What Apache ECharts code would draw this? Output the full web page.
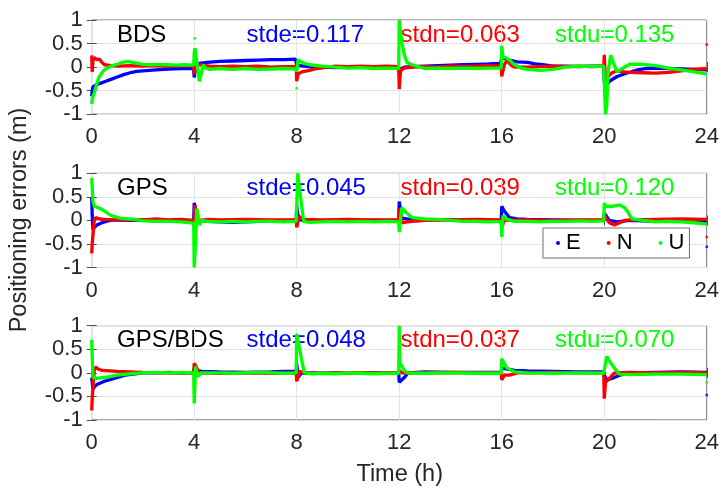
<!DOCTYPE html>
<html>
<head>
<meta charset="utf-8">
<script src="https://cdn.jsdelivr.net/npm/echarts@6/dist/echarts.min.js"></script>
<style>
html,body{margin:0;padding:0;background:#fff;}
#chart{width:722px;height:488px;}
</style>
</head>
<body>
<div id="chart"></div>
<script>
// ---- data ----
const panelNames = ['BDS', 'GPS', 'GPS/BDS'];
const stdE = ['0.117', '0.045', '0.048'];
const stdN = ['0.063', '0.039', '0.037'];
const stdU = ['0.135', '0.120', '0.070'];
const xTicks = [0, 4, 8, 12, 16, 20, 24];
const yTicks = [-1, -0.5, 0, 0.5, 1];

const bdsE = [[0,-0.62],[0.02,-0.5],[0.05,-0.42],[0.1,-0.4],[0.2,-0.37],[0.35,-0.34],[0.5,-0.31],[0.75,-0.26],[1,-0.21],[1.25,-0.16],[1.5,-0.12],[1.75,-0.09],[2,-0.08],[2.5,-0.06],[3,-0.04],[3.5,-0.03],[3.98,-0.03],[4.0,-0.22],[4.03,-0.1],[4.1,0.05],[4.2,0.08],[4.5,0.1],[5,0.12],[5.5,0.13],[6,0.14],[6.5,0.15],[7,0.16],[7.5,0.16],[7.95,0.17],[8.0,0.05],[8.1,0.03],[8.3,0.02],[8.6,0.0],[9,0.0],[9.5,-0.01],[10,0.0],[10.5,0.01],[11,0.0],[11.5,0.01],[11.98,0.0],[12.0,-0.12],[12.05,-0.05],[12.2,0.0],[12.5,0.01],[13,0.02],[13.5,0.03],[14,0.04],[14.5,0.05],[15,0.06],[15.5,0.07],[15.95,0.08],[16.0,0.2],[16.05,0.22],[16.3,0.15],[16.6,0.11],[17,0.1],[17.3,0.07],[17.6,0.05],[18,0.02],[18.5,0.02],[19,0.01],[19.5,0.02],[19.98,0.02],[20.0,-0.3],[20.05,-0.42],[20.1,-0.38],[20.2,-0.3],[20.5,-0.2],[20.8,-0.14],[21,-0.11],[21.3,-0.06],[21.6,-0.03],[22,-0.02],[22.5,-0.03],[23,-0.04],[23.5,-0.05],[24,-0.06]];
const bdsN = [[0,0.25],[0.02,-0.1],[0.05,0.15],[0.1,0.2],[0.2,0.16],[0.3,0.17],[0.4,0.1],[0.5,0.05],[0.75,0.03],[1,0.02],[1.5,0.03],[2,0.02],[2.5,0.03],[3,0.02],[3.5,0.03],[3.98,0.02],[4.0,-0.15],[4.05,0.0],[4.1,0.06],[4.3,0.04],[4.6,0.02],[5,0.01],[5.5,0.02],[6,0.01],[6.5,0.02],[7,0.0],[7.5,0.01],[7.98,0.01],[8.0,-0.3],[8.05,-0.15],[8.2,-0.1],[8.5,-0.07],[8.8,-0.03],[9.2,0.0],[9.5,0.02],[10,0.01],[10.5,0.02],[11,0.01],[11.5,0.02],[11.98,0.01],[12.0,-0.47],[12.05,-0.08],[12.2,-0.02],[12.5,0.0],[13,0.01],[13.5,0.0],[14,0.02],[14.5,0.01],[15,0.02],[15.5,0.03],[15.98,0.02],[16.0,-0.2],[16.1,0.05],[16.2,0.14],[16.35,0.05],[16.5,0.0],[17,0.0],[17.5,0.01],[18,0.02],[18.5,0.01],[19,0.02],[19.5,0.01],[19.98,0.02],[20.0,0.26],[20.05,-0.3],[20.15,-0.2],[20.3,-0.12],[20.5,-0.08],[20.8,-0.1],[21,-0.11],[21.5,-0.12],[22,-0.13],[22.5,-0.11],[23,-0.08],[23.5,-0.05],[24,-0.03]];
const bdsU = [[0,-0.78],[0.03,-0.65],[0.1,-0.55],[0.2,-0.35],[0.3,-0.2],[0.45,-0.08],[0.6,-0.02],[0.8,0.03],[1,0.06],[1.2,0.1],[1.4,0.12],[1.6,0.1],[1.8,0.08],[2,0.06],[2.3,0.05],[2.6,0.06],[3,0.05],[3.3,0.04],[3.6,0.05],[3.98,0.04],[4.0,0.3],[4.03,0.4],[4.08,0.2],[4.15,-0.1],[4.2,-0.3],[4.25,-0.2],[4.35,0.05],[4.45,-0.02],[4.6,-0.05],[5,-0.03],[5.5,-0.05],[6,-0.03],[6.5,-0.05],[7,-0.04],[7.5,-0.03],[7.98,-0.04],[8.0,-0.1],[8.05,0.15],[8.15,0.12],[8.3,0.08],[8.5,0.05],[9,0.02],[9.5,0.0],[10,-0.02],[10.5,-0.01],[11,-0.03],[11.5,-0.02],[11.98,-0.03],[12.0,1.0],[12.05,0.75],[12.1,0.54],[12.2,0.26],[12.3,0.1],[12.5,0.05],[12.8,0.0],[13,-0.03],[13.5,-0.02],[14,-0.03],[14.5,-0.02],[15,-0.03],[15.5,-0.02],[15.98,-0.02],[16.0,0.45],[16.05,0.22],[16.15,0.2],[16.3,0.15],[16.5,0.05],[16.75,-0.02],[17,-0.05],[17.5,-0.07],[18,-0.05],[18.5,0.0],[19,0.02],[19.5,0.01],[19.98,0.02],[20.0,-0.3],[20.05,-1.0],[20.1,-0.8],[20.15,-0.1],[20.25,0.25],[20.35,0.1],[20.5,-0.1],[20.7,-0.03],[21,0.06],[21.5,0.06],[22,0.03],[22.5,-0.02],[23,-0.06],[23.5,-0.1],[24,-0.15]];
const bdsEDots = [];
const bdsNDots = [[24,0.48]];
const bdsUDots = [[4.02,0.61],[8.0,-0.45]];

const gpsE = [[0,0.5],[0.02,0.1],[0.05,-0.2],[0.1,-0.15],[0.2,-0.1],[0.4,-0.05],[0.7,0.0],[1,0.01],[1.5,0.0],[2,0.01],[2.5,-0.01],[3,0.0],[3.5,-0.01],[3.98,0.0],[4.0,0.37],[4.05,0.25],[4.15,0.0],[4.5,-0.02],[5,-0.03],[5.5,-0.04],[6,-0.03],[6.5,-0.02],[7,-0.01],[7.5,0.0],[7.98,0.0],[8.0,0.3],[8.05,0.1],[8.2,0.0],[8.6,-0.02],[9,-0.01],[9.5,-0.02],[10,0.0],[10.5,-0.01],[11,0.0],[11.5,0.0],[11.98,0.0],[12.0,0.4],[12.1,0.05],[12.3,0.03],[13,0.02],[14,0.01],[15,0.0],[15.98,0.0],[16.0,0.3],[16.1,0.2],[16.3,0.06],[16.6,0.03],[17,0.02],[18,0.01],[19,0.0],[19.98,0.0],[20.0,0.15],[20.2,0.0],[20.5,-0.03],[21,0.0],[21.5,-0.01],[22,-0.02],[23,-0.01],[24,-0.02]];
const gpsN = [[0,-0.7],[0.02,-0.5],[0.05,-0.3],[0.1,0.0],[0.15,0.06],[0.3,0.03],[0.5,0.02],[1,0.01],[1.5,0.02],[2,0.01],[2.5,0.03],[3,0.01],[3.5,0.02],[3.98,0.0],[4.0,-0.17],[4.02,0.33],[4.08,0.1],[4.2,0.0],[4.6,0.02],[5,0.01],[6,0.02],[7,0.01],[7.98,0.01],[8.0,-0.15],[8.1,0.08],[8.3,0.02],[9,0.01],[10,0.02],[11,0.01],[11.98,0.01],[12.0,0.25],[12.1,-0.05],[12.3,-0.03],[13,0.0],[14,0.01],[15,0.02],[15.98,0.01],[16.0,-0.15],[16.1,0.0],[17,0.01],[18,0.0],[19,0.01],[19.98,0.01],[20.0,0.1],[20.2,-0.05],[20.4,-0.1],[20.6,-0.05],[20.8,0.0],[21,0.01],[22,0.02],[23,0.03],[24,0.02]];
const gpsU = [[0,0.9],[0.02,0.7],[0.05,0.4],[0.1,0.3],[0.2,0.28],[0.35,0.25],[0.5,0.2],[0.7,0.12],[0.9,0.08],[1.1,0.05],[1.4,0.03],[1.7,0.02],[2,-0.01],[2.5,-0.02],[3,-0.02],[3.5,-0.03],[3.98,-0.06],[4.0,-1.0],[4.05,-0.5],[4.1,0.25],[4.15,0.1],[4.2,-0.1],[4.3,0.0],[4.5,-0.02],[5,-0.03],[5.5,-0.02],[6,-0.03],[6.5,-0.02],[7,-0.02],[7.5,-0.03],[7.98,-0.02],[8.0,0.3],[8.04,1.0],[8.15,0.5],[8.27,-0.02],[8.5,-0.04],[9,-0.03],[9.5,-0.02],[10,-0.03],[10.5,-0.02],[11,-0.03],[11.5,-0.02],[11.98,-0.03],[12.0,-0.25],[12.1,0.27],[12.3,0.15],[12.5,0.06],[13,0.03],[13.5,0.02],[14,0.0],[14.5,-0.02],[15,-0.02],[15.5,-0.03],[15.98,-0.02],[16.0,-0.35],[16.05,0.1],[16.2,0.02],[16.5,-0.02],[17,-0.02],[17.5,-0.03],[18,-0.02],[18.5,-0.02],[19,-0.01],[19.5,-0.02],[19.98,-0.01],[20.0,0.37],[20.05,0.3],[20.3,0.3],[20.6,0.33],[20.8,0.27],[20.9,0.2],[21.0,0.1],[21.1,0.03],[21.5,0.0],[22,-0.03],[22.5,-0.02],[23,-0.03],[23.5,-0.05],[24,-0.08]];
const gpsEDots = [[24,-0.56]];
const gpsNDots = [[24,-0.35]];
const gpsUDots = [];

const mixE = [[0,-0.1],[0.05,-0.35],[0.1,-0.3],[0.2,-0.25],[0.5,-0.18],[0.75,-0.14],[1,-0.1],[1.3,-0.05],[1.7,-0.02],[2,0.0],[2.5,0.0],[3,0.01],[3.5,0.0],[3.98,0.0],[4.0,0.1],[4.05,0.05],[4.3,0.03],[5,0.02],[6,0.01],[7,0.02],[7.5,0.03],[7.98,0.03],[8.0,0.2],[8.05,-0.1],[8.2,0.0],[9,-0.01],[10,0.0],[11,0.0],[11.98,0.0],[12.0,-0.2],[12.2,-0.1],[12.35,0.0],[13,0.02],[14,0.01],[15,0.01],[15.98,0.01],[16.0,0.1],[16.05,0.12],[16.5,0.05],[17,0.04],[18,0.03],[19,0.02],[19.98,0.02],[20.0,-0.05],[20.1,-0.15],[20.3,-0.12],[20.6,-0.05],[21,0.0],[22,0.01],[23,0.02],[24,0.01]];
const mixN = [[0,-0.8],[0.02,-0.55],[0.05,-0.3],[0.1,0.05],[0.15,0.12],[0.25,0.08],[0.4,0.05],[0.7,0.04],[1,0.03],[1.5,0.02],[2,0.01],[3,0.0],[3.98,0.0],[4.0,0.2],[4.05,0.18],[4.2,0.0],[5,-0.01],[6,0.0],[7,-0.01],[7.98,0.0],[8.0,-0.18],[8.1,0.03],[8.3,0.0],[9,-0.01],[10,0.0],[11,0.0],[11.98,0.0],[12.0,0.05],[12.1,0.0],[13,0.0],[14,0.01],[15,0.0],[15.98,0.0],[16.0,-0.15],[16.1,-0.05],[16.3,-0.05],[16.6,0.0],[17,0.0],[18,0.01],[19,0.0],[19.98,0.0],[20.0,-0.55],[20.05,-0.2],[20.2,-0.12],[20.4,0.0],[21,0.01],[22,0.0],[23,0.01],[24,0.0]];
const mixU = [[0,0.7],[0.01,0.5],[0.03,0.2],[0.05,-0.1],[0.2,-0.12],[0.5,-0.1],[0.8,-0.07],[1,-0.05],[1.5,-0.02],[2,0.0],[2.5,0.01],[3,0.0],[3.5,0.01],[3.98,0.0],[4.0,-0.65],[4.05,0.13],[4.15,-0.08],[4.27,0.0],[5,0.0],[5.5,-0.01],[6,0.0],[6.5,0.01],[7,0.0],[7.5,-0.01],[7.98,0.0],[8.0,0.83],[8.1,0.55],[8.2,0.25],[8.3,0.0],[8.6,-0.02],[9,-0.01],[9.5,-0.02],[10,0.0],[10.5,-0.01],[11,-0.02],[11.5,-0.01],[11.98,-0.01],[12.0,1.0],[12.03,0.2],[12.2,0.05],[12.3,0.0],[13,-0.01],[14,0.0],[15,-0.01],[15.98,-0.01],[16.0,0.3],[16.2,0.1],[16.5,0.02],[17,0.0],[18,-0.01],[19,0.0],[19.98,-0.01],[20.0,0.0],[20.1,0.35],[20.2,0.25],[20.4,0.1],[20.6,-0.03],[21,-0.04],[22,-0.03],[23,-0.03],[24,-0.04]];
const mixEDots = [[24,-0.47]];
const mixNDots = [];
const mixUDots = [[24,-0.2]];

// ---- chart ----
const FONT = '"Liberation Sans", Arial, Helvetica, sans-serif';
const colE = '#0000ff', colN = '#ff0000', colU = '#00ff00';
const panels = [
  {E: bdsE, N: bdsN, U: bdsU, Ed: bdsEDots, Nd: bdsNDots, Ud: bdsUDots},
  {E: gpsE, N: gpsN, U: gpsU, Ed: gpsEDots, Nd: gpsNDots, Ud: gpsUDots},
  {E: mixE, N: mixN, U: mixU, Ed: mixEDots, Nd: mixNDots, Ud: mixUDots}
];
const gridTops = [20, 173.3, 325.7];
const gridH = 94.2;
const gridLeft = 91.7, gridRight = 14.3;

const grids = [], xAxes = [], yAxes = [], series = [], graphics = [];
gridTops.forEach((top, i) => {
  grids.push({left: gridLeft, right: gridRight, top: top, height: gridH, show: true,
    borderColor: '#6e6e6e', borderWidth: 1, backgroundColor: '#fff'});
  xAxes.push({gridIndex: i, type: 'value', min: xTicks[0], max: xTicks[xTicks.length-1], interval: 4,
    axisLine: {show: false},
    axisTick: {inside: true, length: 5, lineStyle: {color: '#4d4d4d'}},
    axisLabel: {fontSize: 22, color: '#262626', fontFamily: FONT, margin: 12},
    splitLine: {show: true, lineStyle: {color: '#e3e3e3', width: 1}}});
  xAxes.push({gridIndex: i, type: 'value', position: 'top', min: 0, max: 24, interval: 4,
    axisLine: {show: false}, axisLabel: {show: false}, splitLine: {show: false},
    axisTick: {inside: true, length: 5, lineStyle: {color: '#4d4d4d'}}});
  yAxes.push({gridIndex: i, type: 'value', min: yTicks[0], max: yTicks[yTicks.length-1], interval: 0.5,
    axisLine: {show: false},
    axisTick: {inside: true, length: 5, lineStyle: {color: '#4d4d4d'}},
    axisLabel: {fontSize: 22, color: '#262626', fontFamily: FONT, margin: 9},
    splitLine: {show: true, lineStyle: {color: '#e3e3e3', width: 1}}});
  yAxes.push({gridIndex: i, type: 'value', position: 'right', min: -1, max: 1, interval: 0.5,
    axisLine: {show: false}, axisLabel: {show: false}, splitLine: {show: false},
    axisTick: {inside: true, length: 5, lineStyle: {color: '#4d4d4d'}}});
  const p = panels[i];
  const xi = i * 2, yi = i * 2;
  [['E', p.E, p.Ed, colE], ['N', p.N, p.Nd, colN], ['U', p.U, p.Ud, colU]].forEach(([nm, d, dots, c]) => {
    series.push({name: nm, type: 'line', xAxisIndex: xi, yAxisIndex: yi, data: d,
      showSymbol: false, symbol: 'circle', symbolSize: 4, color: c,
      lineStyle: {color: c, width: 3.3}, animation: false, silent: true, z: 3});
    series.push({name: nm, type: 'scatter', xAxisIndex: xi, yAxisIndex: yi, data: dots,
      symbolSize: 3, itemStyle: {color: c}, animation: false, silent: true, z: 3});
  });
  const ty = top + 17;
  graphics.push({type: 'text', left: 117, top: ty - 14, style: {text: panelNames[i], fill: '#000', font: '24px ' + FONT}});
  graphics.push({type: 'text', left: 246.5, top: ty - 14, style: {text: 'stde=' + stdE[i], fill: colE, font: '24px ' + FONT}});
  graphics.push({type: 'text', left: 400.5, top: ty - 14, style: {text: 'stdn=' + stdN[i], fill: colN, font: '24px ' + FONT}});
  graphics.push({type: 'text', left: 555, top: ty - 14, style: {text: 'stdu=' + stdU[i], fill: colU, font: '24px ' + FONT}});
});

graphics.push({type: 'text', x: 20, y: 220, rotation: Math.PI / 2,
  style: {text: 'Positioning errors (m)', fill: '#262626', font: '23.5px ' + FONT, align: 'center', verticalAlign: 'middle'}});
graphics.push({type: 'text', x: 399.7, y: 475,
  style: {text: 'Time (h)', fill: '#262626', font: '23.5px ' + FONT, align: 'center', verticalAlign: 'middle'}});

const chart = echarts.init(document.getElementById('chart'), null, {renderer: 'canvas'});
chart.setOption({
  backgroundColor: '#fff',
  animation: false,
  grid: grids,
  xAxis: xAxes,
  yAxis: yAxes,
  legend: {
    data: [{name: 'E', icon: 'circle'}, {name: 'N', icon: 'circle'}, {name: 'U', icon: 'circle'}],
    left: 543, top: 228, padding: [4, 5, 4, 13],
    itemWidth: 6, itemHeight: 4, itemGap: 26,
    backgroundColor: '#fff', borderColor: '#6e6e6e', borderWidth: 1, borderRadius: 0,
    textStyle: {fontSize: 22, color: '#000', fontFamily: FONT},
    selectedMode: false
  },
  graphic: graphics,
  series: series
});
</script>
</body>
</html>
